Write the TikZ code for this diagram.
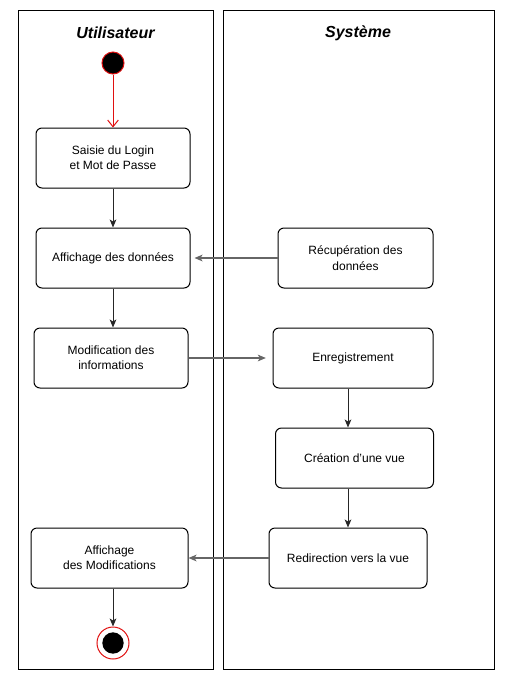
\documentclass[tikz,border=0pt]{standalone}
\usepackage{fontspec}
\setmainfont{Liberation Sans}
\usetikzlibrary{arrows.meta,positioning,calc}
\definecolor{flowgray}{HTML}{666666}
\definecolor{startred}{HTML}{E01010}

\begin{document}
\begin{tikzpicture}[
x=0.75pt,y=-0.75pt,
Lanes/.style={draw=black,line width=0.75pt},
LaneTitle/.style={font=\fontsize{12}{14}\selectfont\bfseries\itshape},
Actions/.style={draw=black,line width=0.75pt,rounded corners=4.5pt,fill=white,
  minimum height=45pt,align=center,font=\fontsize{9}{11.5}\selectfont},
Flow/.style={-{Stealth[length=6pt,width=5pt,inset=1.5pt]},line width=0.75pt,black!85},
SideFlow/.style={-{Stealth[length=6pt,width=5pt,inset=1.5pt]},line width=0.9pt,flowgray},
every node/.style={inner sep=0pt}
]
\useasboundingbox (0,0) rectangle (508,687);

% swimlanes
\draw[Lanes] (18,10) rectangle (213,669);
\draw[Lanes] (223,10) rectangle (494,669);
\node[LaneTitle] (user) at (115.5,33) {Utilisateur};
\node[LaneTitle] (sys) at (358,33) {Système};

% start and end
\node[circle,fill=black,draw=startred,line width=0.75pt,minimum size=16.5pt] (debut) at (113,63) {};
\node[circle,draw=startred,line width=0.75pt,minimum size=24pt] (fin) at (113,643) {};
\node[circle,fill=black,minimum size=16pt] (finin) at (113,643) {};

% left lane
\node[Actions,minimum width=115.5pt] (saisie) at (113,158) {Saisie du Login\\et Mot de Passe};
\node[Actions,minimum width=115.5pt] (aff) at (113,258) {Affichage des données};
\node[Actions,minimum width=115.5pt] (mod) at (111,358) {Modification des\\informations};
\node[Actions,minimum width=117.75pt] (affm) at (109.5,558) {Affichage\\des Modifications};

% right lane
\node[Actions,minimum width=116.25pt] (rec) at (355.5,258) {Récupération des\\données};
\node[Actions,minimum width=120pt] (enr) at (353,358) {Enregistrement};
\node[Actions,minimum width=118.5pt] (cre) at (354.5,458) {Création d'une vue};
\node[Actions,minimum width=118.5pt] (red) at (348,558) {Redirection vers la vue};

% flows
\draw[-{Straight Barb[length=5pt,width=8pt]},startred,line width=0.75pt] (debut) -- (saisie);
\draw[Flow] (saisie) -- (aff);
\draw[Flow] (aff.south) -- (aff.south |- mod.north);
\draw[SideFlow,shorten >=3pt] (rec) -- (aff);
\draw[SideFlow,shorten >=5pt] (mod) -- (enr);
\draw[Flow] (enr.south -| red.north) -- (cre.north -| red.north);
\draw[Flow] (cre.south -| red.north) -- (red.north);
\draw[SideFlow] (red) -- (affm);
\draw[Flow] (fin |- affm.south) -- (fin);

\end{tikzpicture}
\end{document}
